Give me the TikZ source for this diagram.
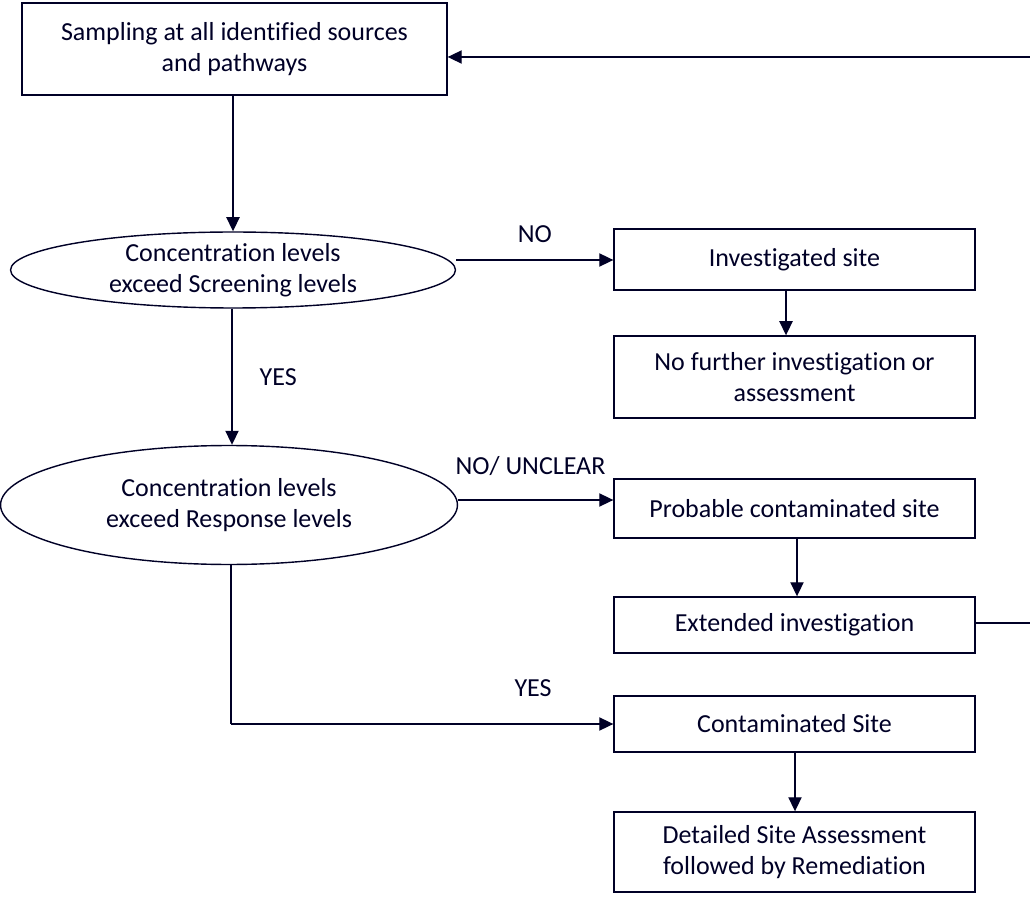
\documentclass[tikz,border=0pt]{standalone}
\usepackage{fontspec}
\setmainfont[Ligatures=NoCommon]{Carlito}
\usetikzlibrary{shapes.geometric,arrows.meta}

\tikzset{
  flowbox/.style={draw, thick, align=center, minimum width=7.22cm, inner sep=2pt},
  testoval/.style={ellipse, draw, thick, align=center, inner sep=0pt},
  flow/.style={thick, -{Triangle[length=8pt,width=7.5pt]}}
}

\begin{document}
\begin{tikzpicture}[x=0.02cm, y=-0.02cm, font=\fontsize{14.8}{17.6}\selectfont, color={black!85!blue}]
    \clip (0,0) rectangle (1030,908);

    \node [flowbox, minimum width=8.5cm, minimum height=1.84cm] (sample) at (234.5,49) {Sampling at all identified sources\\and pathways};

    \node [testoval, minimum width=8.9cm, minimum height=1.52cm] (screen) at (233,270) {Concentration levels\\exceed Screening levels};
    \node [testoval, minimum width=9.14cm, minimum height=2.38cm] (respond) at (229,505) {Concentration levels\\exceed Response levels};

    \node [flowbox, minimum height=1.22cm] (investigated) at (794.5,259.5) {Investigated site};
    \node [flowbox, minimum height=1.64cm] (nofurther) at (794.5,377) {No further investigation or\\assessment};
    \node [flowbox, minimum height=1.18cm] (probable) at (794.5,508.5) {Probable contaminated site};
    \node [flowbox, minimum height=1.12cm] (extended) at (794.5,625) {Extended investigation};
    \node [flowbox, minimum height=1.12cm] (contaminated) at (794.5,724) {Contaminated Site};
    \node [flowbox, minimum height=1.6cm] (detailed) at (794.5,852) {Detailed Site Assessment\\followed by Remediation};

    \coordinate (loopb) at (1045,623);
    \coordinate (loopt) at (1045,57);
    \coordinate (yesbend) at (231,724);

    \draw [flow] (sample.south -| 233,0) -- (screen.north -| 233,0);
    \draw [flow] (screen.east |- 0,260) -- node [above=6pt] {NO} (investigated.west |- 0,260);
    \draw [flow] (investigated.south -| 786,0) -- (nofurther.north -| 786,0);
    \draw [flow] (screen.south -| 232,0) -- node [right=12pt] {YES} (respond.north -| 232,0);
    \draw [flow] (respond.east |- 0,500) -- node [above=10pt, xshift=-3pt] {NO/ UNCLEAR} (probable.west |- 0,500);
    \draw [flow] (probable.south -| 797,0) -- (extended.north -| 797,0);
    \draw [thick] (extended.east |- 0,623) -- (loopb) -- (loopt);
    \draw [flow] (loopt) -- (sample.east |- 0,57);
    \draw [thick] (respond.south -| yesbend) -- (yesbend);
    \draw [flow] (yesbend) -- node [above=12pt, pos=0.79] {YES} (contaminated.west);
    \draw [flow] (contaminated.south -| 795,0) -- (detailed.north -| 795,0);
\end{tikzpicture}
\end{document}
